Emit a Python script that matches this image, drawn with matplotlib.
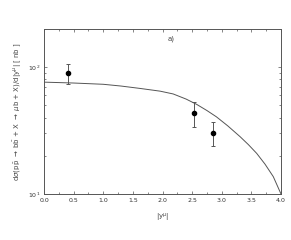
import numpy as np
import matplotlib
matplotlib.use("Agg")
import matplotlib.pyplot as plt
from matplotlib.ticker import LogLocator, MultipleLocator, NullFormatter, FormatStrFormatter

# data points
x_pts = [0.4, 2.53, 2.85]
y_pts = [89.7, 43.4, 30.4]
y_hi = [106.0, 53.0, 36.7]
y_lo = [73.5, 33.7, 23.9]

# theory curve
x_curve = [0.0, 0.5, 1.0, 1.3, 1.62, 1.96, 2.18, 2.4, 2.58, 2.75, 2.91, 3.1, 3.31, 3.45, 3.59, 3.73, 3.87, 4.0]
y_curve = [76.2, 75.0, 73.3, 71.0, 68.0, 64.7, 61.5, 56.0, 50.8, 45.5, 40.6, 34.5, 28.3, 24.5, 20.9, 17.2, 13.7, 10.0]

fig = plt.figure(figsize=(2.91, 2.40), dpi=100)
ax = fig.add_axes([44/291, 1-194/240, (281-44)/291, (194-29)/240])

ax.plot(x_curve, y_curve, color="#555555", lw=0.7)
yerr = [np.array(y_pts) - np.array(y_lo), np.array(y_hi) - np.array(y_pts)]
ax.errorbar(x_pts, y_pts, yerr=yerr, fmt="o", color="black", ms=3.0,
            ecolor="#555555", elinewidth=0.7, capsize=1.2, capthick=0.7)

ax.set_yscale("log")
ax.set_xlim(0, 4.0)
ax.set_ylim(10, 200)
ax.xaxis.set_major_locator(MultipleLocator(0.5))
ax.xaxis.set_minor_locator(MultipleLocator(0.25))
ax.xaxis.set_major_formatter(FormatStrFormatter("%.1f"))
ax.yaxis.set_major_locator(LogLocator(base=10))
ax.yaxis.set_minor_locator(LogLocator(base=10, subs=np.arange(2, 10)))
ax.yaxis.set_minor_formatter(NullFormatter())
ax.tick_params(which="both", direction="in", top=True, right=True, labelsize=4.5,
               color="#555555", width=0.5, labelcolor="#333333")
ax.tick_params(which="major", length=2.5)
ax.tick_params(axis="x", which="major", pad=3)
ax.tick_params(axis="y", which="major", pad=2.5)
ax.tick_params(which="minor", length=1.5)
for s in ax.spines.values():
    s.set_linewidth(0.7)
    s.set_color("#555555")

ax.set_xlabel(r"|y$^\mu$|", fontsize=5, labelpad=6, color="#444444")
ax.set_ylabel(r"d$\sigma$(p$\bar{\rm p}$ $\rightarrow$ b$\bar{\rm b}$ + X $\rightarrow$ $\mu$b + X)/d|y$^\mu$| [ nb ]",
              fontsize=5, labelpad=3, color="#444444")
ax.text(0.52, 0.93, "a)", transform=ax.transAxes, fontsize=5, color="#444444")

fig.savefig("out.png", dpi=100)
